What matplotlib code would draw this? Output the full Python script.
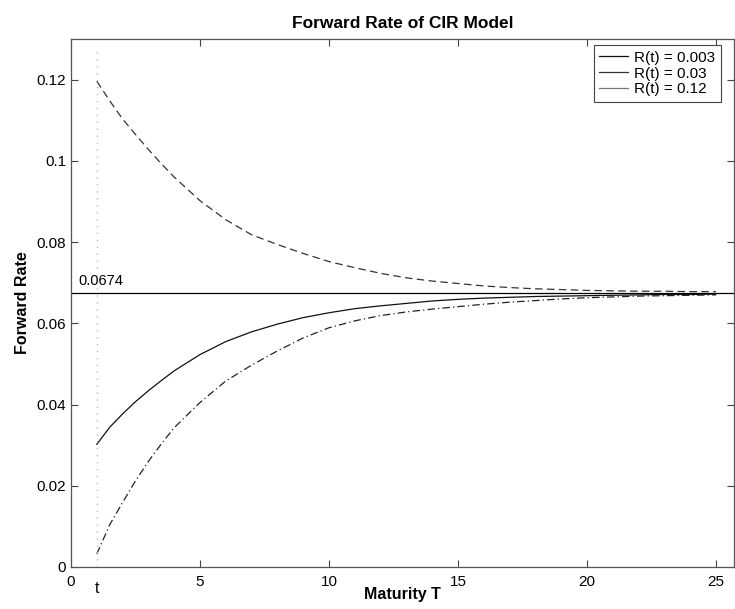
import matplotlib
matplotlib.use("Agg")
import matplotlib.pyplot as plt
from matplotlib.lines import Line2D

plt.rcParams['font.family'] = ['Liberation Sans', 'DejaVu Sans']

maturity = [1, 1.5, 2, 2.5, 3, 3.5, 4, 5, 6, 7, 8, 9, 10, 11, 12, 13, 14, 15, 16, 17, 18, 19, 20, 21, 22, 23, 24, 25]
rate_012 = [0.1196, 0.1148, 0.1103, 0.1065, 0.1028, 0.0993, 0.0960, 0.0902, 0.0855, 0.0818, 0.0794, 0.0772,
            0.0752, 0.0737, 0.0723, 0.0712, 0.0704, 0.0698, 0.0692, 0.0688, 0.0685, 0.0683, 0.0681, 0.0680,
            0.0679, 0.0679, 0.0678, 0.0678]
rate_003 = [0.0302, 0.0344, 0.0377, 0.0407, 0.0434, 0.0459, 0.0483, 0.0523, 0.0555, 0.0579, 0.0598, 0.0614,
            0.0626, 0.0636, 0.0643, 0.0649, 0.0655, 0.0659, 0.0662, 0.0664, 0.0666, 0.0667, 0.0668, 0.0669,
            0.0670, 0.0671, 0.0671, 0.0672]
rate_0003 = [0.0032, 0.0104, 0.0159, 0.0212, 0.0260, 0.0303, 0.0343, 0.0405, 0.0458, 0.0497, 0.0532, 0.0564,
             0.0589, 0.0606, 0.0619, 0.0628, 0.0635, 0.0641, 0.0647, 0.0652, 0.0656, 0.0660, 0.0663, 0.0665,
             0.0667, 0.0668, 0.0669, 0.0670]
long_rate = 0.0674
t_now = 1
legend_labels = ['R(t) = 0.003', 'R(t) = 0.03', 'R(t) = 0.12']
xticks = [0, 5, 10, 15, 20, 25]
yticks = [0, 0.02, 0.04, 0.06, 0.08, 0.1, 0.12]
ytick_labels = ['0', '0.02', '0.04', '0.06', '0.08', '0.1', '0.12']

fig = plt.figure(figsize=(7.35, 6.09), dpi=100)
ax = fig.add_axes([71/735, 42/609, 663/735, 528/609])

ax.plot(maturity, rate_012, color='#333333', lw=0.9, ls=(0, (6, 3.5)))
ax.plot(maturity, rate_003, color='#111111', lw=0.9, ls='-')
ax.plot(maturity, rate_0003, color='#222222', lw=0.9, ls=(0, (6, 2.5, 1, 2.5)))
ax.axhline(long_rate, color='black', lw=0.9)
ax.plot([t_now, t_now], [0, 0.128], color='#bbbbbb', lw=1.0, ls=(0, (1, 4)))
ax.text(0.3, long_rate + 0.0012, f'{long_rate}', fontsize=10.5, ha='left', va='bottom')

ax.set_xlim(0, 25.7)
ax.set_ylim(0, 0.13)
ax.set_xticks(xticks)
ax.set_yticks(yticks)
ax.set_yticklabels(ytick_labels)
ax.tick_params(direction='in', top=True, right=True, labelsize=11, length=5, width=0.8, colors='#444444',
               labelcolor='black')
ax.tick_params(axis='x', pad=6)
for s in ax.spines.values():
    s.set_color('#555555')
    s.set_linewidth(0.9)
ax.text(t_now, -0.0035, 't', fontsize=11.5, ha='center', va='top', transform=ax.transData)

ax.set_title('Forward Rate of CIR Model', fontsize=12.5, fontweight='bold', pad=8)
ax.set_xlabel('Maturity T', fontsize=11.5, fontweight='bold', labelpad=-2)
ax.set_ylabel('Forward Rate', fontsize=11.5, fontweight='bold', labelpad=5)

handles = [Line2D([], [], color='#111111', lw=0.9),
           Line2D([], [], color='#333333', lw=0.9),
           Line2D([], [], color='#777777', lw=0.9)]
leg = ax.legend(handles, legend_labels, loc='upper right', bbox_to_anchor=(0.98, 0.988), fontsize=11,
                frameon=True, fancybox=False, edgecolor='#444444', framealpha=1, handlelength=1.9,
                borderpad=0.35, labelspacing=0.12, handletextpad=0.4, borderaxespad=0)
leg.get_frame().set_linewidth(0.8)

fig.savefig('out.png', dpi=100)
